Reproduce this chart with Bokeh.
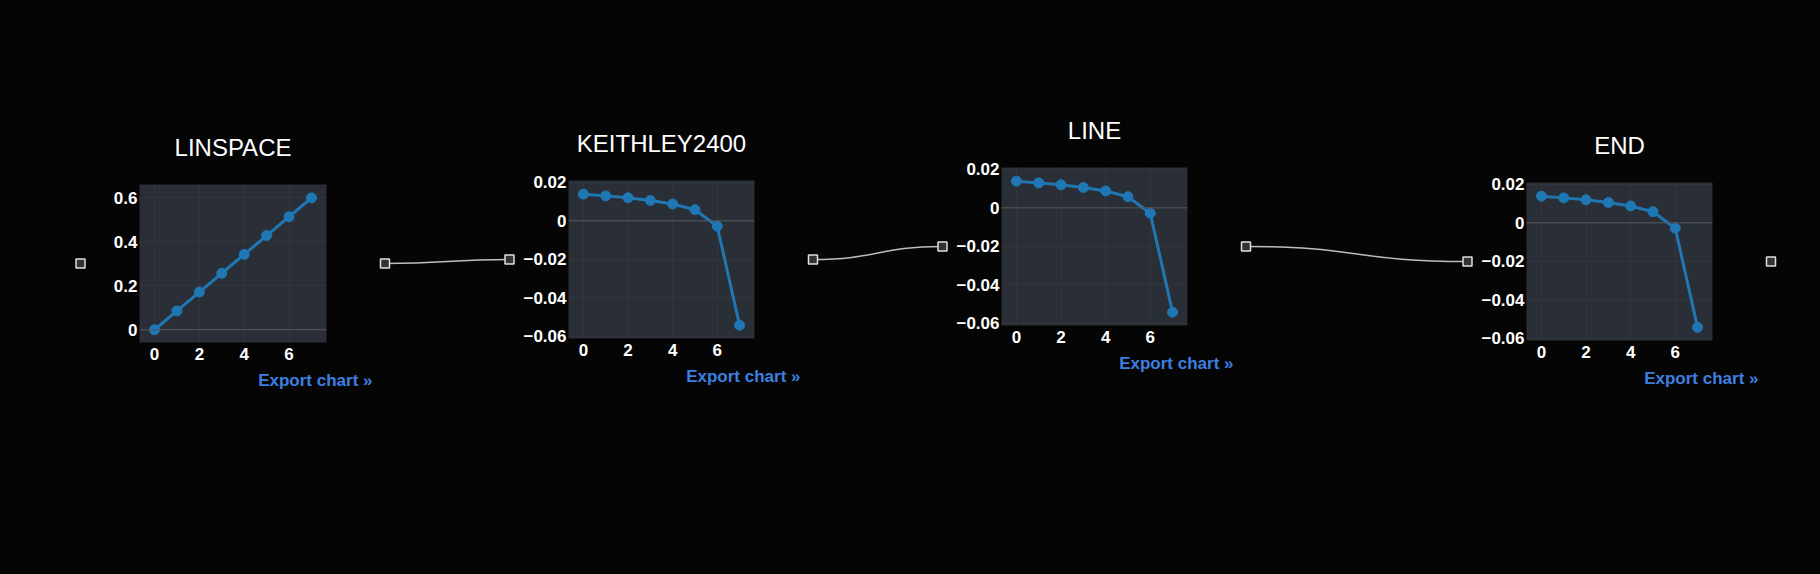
from bokeh.plotting import figure
from bokeh.layouts import row
from bokeh.models import Range1d, FixedTicker, Span, Title, CustomJSTickFormatter
from bokeh.embed import file_html
from bokeh.resources import INLINE

# ---------------- data ----------------
titles = ["LINSPACE", "KEITHLEY2400", "LINE", "END"]
x_vals = [0, 1, 2, 3, 4, 5, 6, 7]
linspace_vals = [0.0, 0.0857, 0.1714, 0.2571, 0.3429, 0.4286, 0.5143, 0.6]
keithley_vals = [0.0139, 0.0130, 0.0120, 0.0106, 0.0088, 0.0058, -0.0028, -0.0543]
line_vals = [0.0139, 0.0130, 0.0120, 0.0106, 0.0088, 0.0058, -0.0028, -0.0543]
end_vals = [0.0139, 0.0130, 0.0120, 0.0106, 0.0088, 0.0058, -0.0028, -0.0543]
x_ticks = [0, 2, 4, 6]
y_ticks_lin = [0, 0.2, 0.4, 0.6]
y_labels_lin = ["0", "0.2", "0.4", "0.6"]
y_ticks_cur = [-0.06, -0.04, -0.02, 0, 0.02]
y_labels_cur = ["\u22120.06", "\u22120.04", "\u22120.02", "0", "0.02"]
export_text = "Export chart \u00bb"

series = [linspace_vals, keithley_vals, line_vals, end_vals]
yticks = [y_ticks_lin, y_ticks_cur, y_ticks_cur, y_ticks_cur]
ylabels = [y_labels_lin, y_labels_cur, y_labels_cur, y_labels_cur]
yranges = [(-0.058, 0.661), (-0.0612, 0.0210), (-0.0612, 0.0210), (-0.0612, 0.0210)]
xrange_ = (-0.67, 7.67)

# ---------------- style / layout ----------------
BG = "#050505"
PLOT_BG = "#2a2e36"
GRID = "#31353d"
ZERO = "#55585e"
LINE_C = "#1f77b4"
EXPORT_C = "#3d7fe0"
FONT = "Liberation Sans"
H = 570
TOTAL_W = 1816
BL, BR = 50, 50
FH = 158
TB = 182                      # common frame top (px)
# frame (left, width, vertical shift) in page pixels
frames = [(139, 187, 2), (568, 186, -2), (1001, 186, -15), (1526, 186, 0)]
PORT_IN, PORT_OUT = 59, 58.5

tick_code = """
let best = 0, bd = Infinity;
for (let i = 0; i < tv.length; i++) {
  const d = Math.abs(tv[i] - tick);
  if (d < bd) { bd = d; best = i; }
}
return lb[best];
"""


def panel(i):
    L, W, dy = frames[i]
    p = figure(width=BL + W + BR, height=H, output_backend="svg", toolbar_location=None,
               x_range=Range1d(*xrange_), y_range=Range1d(*yranges[i]),
               min_border_left=BL, min_border_right=BR, min_border_top=TB,
               min_border_bottom=H - TB - FH)
    p.background_fill_color = PLOT_BG
    p.border_fill_color = BG
    p.outline_line_color = None
    p.title.text = titles[i]
    p.title.align = "center"
    p.title.text_font = FONT
    p.title.text_font_size = "24px"
    p.title.text_font_style = "normal"
    p.title.text_color = "#ffffff"
    p.title.standoff = 48
    for ax in (p.xaxis[0], p.yaxis[0]):
        ax.axis_line_color = None
        ax.major_tick_line_color = None
        ax.minor_tick_line_color = None
        ax.major_tick_out = 0
        ax.major_tick_in = 0
        ax.minor_tick_out = 0
        ax.minor_tick_in = 0
        ax.major_label_text_font = FONT
        ax.major_label_text_font_size = "17px"
        ax.major_label_text_font_style = "bold"
        ax.major_label_text_color = "#ffffff"
    p.xaxis[0].ticker = FixedTicker(ticks=x_ticks)
    p.xaxis[0].major_label_standoff = 5
    p.yaxis[0].ticker = FixedTicker(ticks=yticks[i])
    p.yaxis[0].formatter = CustomJSTickFormatter(args=dict(tv=yticks[i], lb=ylabels[i]),
                                                 code=tick_code)
    p.yaxis[0].major_label_standoff = 2
    p.xgrid.grid_line_color = GRID
    p.ygrid.grid_line_color = GRID
    p.xgrid.ticker = FixedTicker(ticks=x_ticks)
    p.ygrid.ticker = FixedTicker(ticks=yticks[i])
    p.add_layout(Span(location=0, dimension="width", line_color=ZERO, line_width=1))
    p.line(x_vals, series[i], line_color=LINE_C, line_width=3)
    p.scatter(x_vals, series[i], size=10, fill_color=LINE_C, line_color=LINE_C)
    p.add_layout(Title(text=export_text, align="right", offset=-46, text_font=FONT,
                       text_font_size="17px", text_font_style="bold",
                       text_color=EXPORT_C, standoff=12), "below")
    if dy:
        p.styles = {"transform": "translateY(%dpx)" % dy}
    return p


def connector(x0, x1, out_port, in_port):
    w = x1 - x0
    c = figure(width=w, height=H, output_backend="svg", toolbar_location=None,
               x_range=Range1d(0, w), y_range=Range1d(TB + FH, TB),
               x_axis_type=None, y_axis_type=None, min_border_left=0, min_border_right=0,
               min_border_top=TB, min_border_bottom=H - TB - FH)
    c.background_fill_color = BG
    c.border_fill_color = BG
    c.outline_line_color = None
    c.xgrid.visible = False
    c.ygrid.visible = False
    pts = [pt for pt in (out_port, in_port) if pt is not None]
    if out_port is not None and in_port is not None:
        ax, ay = out_port[0] - x0, out_port[1]
        bx, by = in_port[0] - x0, in_port[1]
        mx = (ax + bx) / 2
        c.bezier(x0=[ax], y0=[ay], x1=[bx], y1=[by], cx0=[mx], cy0=[ay], cx1=[mx], cy1=[by],
                 line_color="#bdbdbd", line_width=1.5)
    c.scatter([pt[0] - x0 for pt in pts], [pt[1] for pt in pts], marker="square", size=9,
              fill_color="#333333", line_color="#e0e0e0", line_width=1.5)
    return c


children = []
ports_in = [(L - PORT_IN, TB + dy + FH / 2) for (L, W, dy) in frames]
ports_out = [(L + W + PORT_OUT, TB + dy + FH / 2) for (L, W, dy) in frames]
left_edges = [L - BL for (L, W, dy) in frames]
right_edges = [L + W + BR for (L, W, dy) in frames]

children.append(connector(0, left_edges[0], None, ports_in[0]))
for i in range(4):
    children.append(panel(i))
    if i < 3:
        children.append(connector(right_edges[i], left_edges[i + 1], ports_out[i], ports_in[i + 1]))
    else:
        children.append(connector(right_edges[i], TOTAL_W, ports_out[i], None))

layout = row(children, spacing=0)
layout.styles = {"background-color": BG}

html = file_html(layout, INLINE)
html = html.replace("<head>", "<head><style>html,body{background:%s;}</style>" % BG, 1)
open("out.html", "w").write(html)
